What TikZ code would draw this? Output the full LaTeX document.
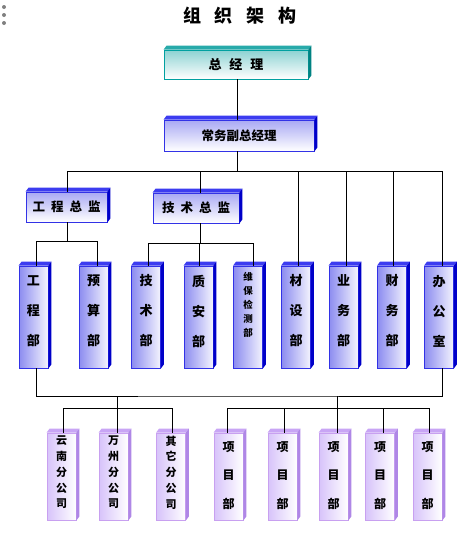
\documentclass[tikz,border=0pt]{standalone}
\usepackage{fontspec}
\newfontfamily\cjk{Noto Sans CJK SC}
\usepackage{xcolor}
\usepackage{tikz}
\usetikzlibrary{shapes,positioning}
\definecolor{bluefront}{RGB}{140,140,240}
\definecolor{blueedge}{RGB}{50,50,230}
\definecolor{bluetop}{RGB}{60,60,240}
\definecolor{blueside}{RGB}{0,0,200}
\definecolor{tealfront}{RGB}{140,210,210}
\definecolor{tealedge}{RGB}{0,160,160}
\definecolor{tealtop}{RGB}{40,170,170}
\definecolor{tealside}{RGB}{0,130,130}
\definecolor{purpfront}{RGB}{215,195,250}
\definecolor{purpedge}{RGB}{200,160,240}
\definecolor{purptop}{RGB}{200,165,245}
\definecolor{purpside}{RGB}{175,135,230}
% top and right faces of a box
\newcommand{\boxdepth}[3]{%
  \fill[#2] (#1.north west) -- ++(3pt,4pt) -- ([shift={(3pt,4pt)}]#1.north east) -- (#1.north east) -- cycle;
  \fill[#3] (#1.north east) -- ++(3pt,4pt) -- ([shift={(3pt,4pt)}]#1.south east) -- (#1.south east) -- cycle;
}

\begin{document}
\begin{tikzpicture}[x=1pt,y=-1pt,line width=0.9pt]
    % Define styles for the boxes
    \tikzstyle{tealbox} = [rectangle, draw=tealedge, line width=0.8pt, inner sep=0pt,
        top color=tealfront, bottom color=white,
        font=\cjk\bfseries\fontsize{13}{15}\selectfont]
    \tikzstyle{hbox} = [rectangle, draw=blueedge, line width=0.8pt, inner sep=0pt,
        top color=bluefront!75, bottom color=white, minimum height=30pt,
        font=\cjk\bfseries\fontsize{12.5}{15}\selectfont]
    \tikzstyle{vbox} = [rectangle, draw=blueedge, line width=0.8pt, inner sep=0pt,
        left color=bluefront, right color=bluefront!10,
        minimum width=29pt, minimum height=102pt]
    \tikzstyle{pbox} = [rectangle, draw=purpedge, line width=0.8pt, inner sep=0pt,
        left color=purpfront, right color=white,
        minimum width=29pt, minimum height=87pt]
    \tikzstyle{vtext} = [align=center, yshift=6pt,
        font=\cjk\bfseries\fontsize{13}{30}\selectfont]
    \tikzstyle{vsmall} = [align=center, yshift=12pt,
        font=\cjk\bfseries\fontsize{9.5}{14}\selectfont]
    \tikzstyle{ptext} = [align=center, yshift=4pt,
        font=\cjk\bfseries\fontsize{11}{15.75}\selectfont]
    \tikzstyle{xtext} = [align=center, yshift=1pt,
        font=\cjk\bfseries\fontsize{12}{28.5}\selectfont]

    \useasboundingbox (0,0) rectangle (476,549);

    % Title and dots
    \node[font=\cjk\bfseries\fontsize{18}{20}\selectfont] (title) at (240,16)
        {组\hspace{14pt}织\hspace{14pt}架\hspace{14pt}构};
    \foreach \y in {7,15,23} \fill[gray] (4,\y) circle (2pt);

    % Top boxes
    \node[tealbox, minimum width=144pt, minimum height=29pt] (zjl) at (236,64.5)
        {总\hspace{8pt}经\hspace{8pt}理};
    \node[hbox, minimum width=150pt, minimum height=31pt] (cwfz) at (239,135.5) {常务副总经理};
    \node[hbox, minimum width=81pt] (gczj) at (66.5,207) {工\hspace{6pt}程\hspace{6pt}总\hspace{6pt}监};
    \node[hbox, minimum width=86pt] (jszj) at (196,208) {技\hspace{6pt}术\hspace{6pt}总\hspace{6pt}监};

    % Departments
    \node[vbox, label={[vtext]center:{工\\程\\部}}] (gcb) at (33.5,317) {};
    \node[vbox, label={[vtext]center:{预\\算\\部}}] (ysb) at (93.5,317) {};
    \node[vbox, label={[vtext]center:{技\\术\\部}}] (jsb) at (146,317) {};
    \node[vbox, label={[vtext]center:{质\\安\\部}}] (zab) at (198.5,317) {};
    \node[vbox, label={[vsmall]center:{维\\保\\检\\测\\部}}] (wbjc) at (248,317) {};
    \node[vbox, label={[vtext]center:{材\\设\\部}}] (csb) at (296,317) {};
    \node[vbox, label={[vtext]center:{业\\务\\部}}] (ywb) at (343.5,317) {};
    \node[vbox, label={[vtext]center:{财\\务\\部}}] (cwb) at (392,317) {};
    \node[vbox, label={[vtext]center:{办\\公\\室}}] (bgs) at (439,317) {};

    % Branches and projects
    \node[pbox, label={[ptext]center:{云\\南\\分\\公\\司}}] (yngs) at (61.5,476.5) {};
    \node[pbox, label={[ptext]center:{万\\州\\分\\公\\司}}] (wzgs) at (113.5,476.5) {};
    \node[pbox, label={[ptext]center:{其\\它\\分\\公\\司}}] (qtgs) at (171,476.5) {};
    \node[pbox, label={[xtext]center:{项\\目\\部}}] (xm1) at (228.5,476.5) {};
    \node[pbox, label={[xtext]center:{项\\目\\部}}] (xm2) at (282.5,476.5) {};
    \node[pbox, label={[xtext]center:{项\\目\\部}}] (xm3) at (333.5,476.5) {};
    \node[pbox, label={[xtext]center:{项\\目\\部}}] (xm4) at (380,476.5) {};
    \node[pbox, label={[xtext]center:{项\\目\\部}}] (xm5) at (427.5,476.5) {};

    % Box depth
    \boxdepth{zjl}{tealtop}{tealside}
    \foreach \n in {cwfz,gczj,jszj,gcb,ysb,jsb,zab,wbjc,csb,ywb,cwb,bgs}
        \boxdepth{\n}{bluetop}{blueside};
    \foreach \n in {yngs,wzgs,qtgs,xm1,xm2,xm3,xm4,xm5}
        \boxdepth{\n}{purptop}{purpside};

    % Connectors
    \coordinate (bus1) at (237,171);
    \coordinate (bus2) at (67,241);
    \coordinate (bus3) at (200,243);
    \coordinate (bus4) at (237,396);
    \coordinate (fgs) at (117,396);
    \coordinate (fgsbus) at (117,408);
    \coordinate (xmb) at (337,396);
    \coordinate (xmbus) at (337,408);

    \draw (zjl.south -| bus1) -- (cwfz.north -| bus1);
    \draw (cwfz.south -| bus1) -- (bus1);
    \foreach \n/\s in {gczj/0.5,jszj/4,csb/2,ywb/2.5,cwb/1,bgs/3}
        \draw (bus1) -| ([xshift=\s pt]\n.north);
    \draw (gczj.south -| bus2) -- (bus2);
    \foreach \n/\s in {gcb/2.5,ysb/3.5}
        \draw (bus2) -| ([xshift=\s pt]\n.north);
    \draw (jszj.south -| bus3) -- (bus3);
    \foreach \n/\s in {jsb/2,zab/1,wbjc/5}
        \draw (bus3) -| ([xshift=\s pt]\n.north);
    \draw ([xshift=2.5pt]gcb.south) |- (bus4) -| ([xshift=3pt]bgs.south);
    \draw (fgs) -- (fgsbus);
    \foreach \n/\s in {yngs/1.5,wzgs/3.5,qtgs/1}
        \draw (fgsbus) -| ([xshift=\s pt]\n.north);
    \draw (xmb) -- (xmbus);
    \foreach \n/\s in {xm1/-1.5,xm2/1.5,xm3/3.5,xm4/3,xm5/1.5}
        \draw (xmbus) -| ([xshift=\s pt]\n.north);
\end{tikzpicture}
\end{document}
